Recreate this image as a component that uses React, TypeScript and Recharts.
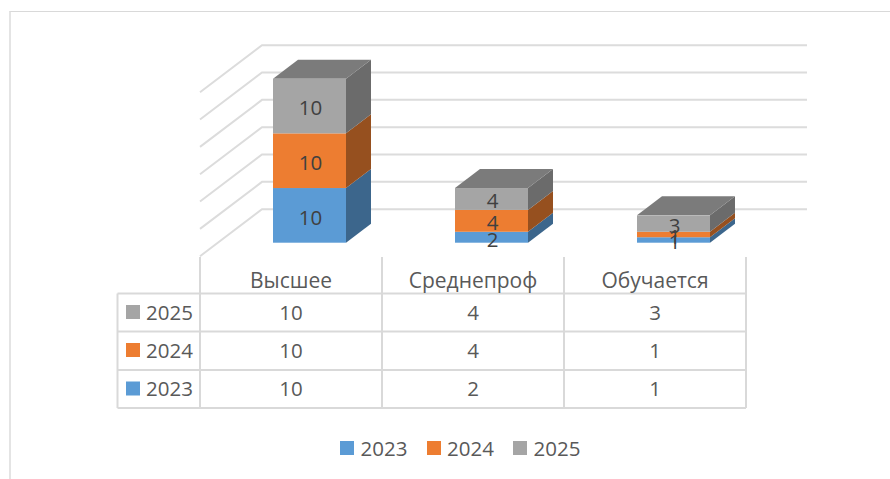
import { BarChart, Bar, XAxis, YAxis, CartesianGrid, LabelList, Legend } from 'recharts';

const categories = ['Высшее', 'Среднепроф', 'Обучается'];
const values2023 = [10, 2, 1];
const values2024 = [10, 4, 1];
const values2025 = [10, 4, 3];
const yTicks = [0, 5, 10, 15, 20, 25, 30];

const chartData = categories.map((name, i) => ({
  name,
  y2023: values2023[i],
  y2024: values2024[i],
  y2025: values2025[i],
}));

const FONT = '"Open Sans", "Noto Sans", sans-serif';
const LINE = '#d9d9d9';
const TEXT = '#595959';

// table rows go top to bottom, reverse of the stack
const rows = [
  { name: '2025', values: values2025, color: '#a5a5a5' },
  { name: '2024', values: values2024, color: '#ed7d31' },
  { name: '2023', values: values2023, color: '#5b9bd5' },
];

const sideColors: Record<string, string> = {
  '#5b9bd5': '#3c668c',
  '#ed7d31': '#96501f',
  '#a5a5a5': '#6b6b6b',
};

const DEPTH_X = 25;
const DEPTH_Y = 19;
const TABLE_LEFT = 117.5;
const COL_LEFT = 200;
const COL_W = 182;
const HEAD_TOP = 257;
const ROW_TOPS = [293.5, 331.5, 370];
const TABLE_BOTTOM = 408;

function Bar3D(props: any) {
  const { x, y, width, height, fill, isTop } = props;
  return (
    <g>
      <polygon
        points={`${x + width},${y} ${x + width + DEPTH_X},${y - DEPTH_Y} ${x + width + DEPTH_X},${y + height - DEPTH_Y} ${x + width},${y + height}`}
        fill={sideColors[fill]}
      />
      {isTop && (
        <polygon
          points={`${x},${y} ${x + DEPTH_X},${y - DEPTH_Y} ${x + width + DEPTH_X},${y - DEPTH_Y} ${x + width},${y}`}
          fill="#7b7b7b"
        />
      )}
      <rect x={x} y={y} width={width} height={height} fill={fill} />
    </g>
  );
}

// back wall + side wall gridline
function WallLine(props: any) {
  const { x1, x2, y1 } = props;
  return (
    <polyline
      key={`wall-${y1}`}
      points={`${x1 - 18},${y1 + 13.5} ${x1 + 44},${y1 - 33.5} ${x2 + 43},${y1 - 33.5}`}
      fill="none"
      stroke="#dcdcdc"
      strokeWidth={2}
    />
  );
}

// each category tick draws its whole column of the data table
function TableColumn(props: any) {
  const { x, payload, index } = props;
  const cx = x - 18;
  const left = cx - COL_W / 2;
  return (
    <g fontFamily={FONT} fontSize={20.5} fill={TEXT}>
      <line x1={left} x2={left} y1={HEAD_TOP} y2={TABLE_BOTTOM} stroke={LINE} strokeWidth={2} />
      <line x1={left + COL_W} x2={left + COL_W} y1={HEAD_TOP} y2={TABLE_BOTTOM} stroke={LINE} strokeWidth={2} />
      <text x={cx} y={288} textAnchor="middle" fontSize={21}>{payload.value}</text>
      {rows.map((row, r) => (
        <text key={row.name} x={cx} y={ROW_TOPS[r] + 26} textAnchor="middle">{row.values[index]}</text>
      ))}
      {index === 0 && (
        <g>
          {[...ROW_TOPS, TABLE_BOTTOM].map((ty) => (
            <line key={ty} x1={TABLE_LEFT} x2={COL_LEFT + COL_W * categories.length} y1={ty} y2={ty} stroke={LINE} strokeWidth={2} />
          ))}
          <line x1={TABLE_LEFT} x2={TABLE_LEFT} y1={ROW_TOPS[0]} y2={TABLE_BOTTOM} stroke={LINE} strokeWidth={2} />
          {rows.map((row, r) => (
            <g key={row.name}>
              <rect x={126} y={ROW_TOPS[r] + 11.5} width={14} height={14} fill={row.color} />
              <text x={146} y={ROW_TOPS[r] + 26}>{row.name}</text>
            </g>
          ))}
        </g>
      )}
    </g>
  );
}

function LegendRow() {
  return (
    <div style={{ display: 'flex', fontFamily: FONT, fontSize: 20.5, color: TEXT, lineHeight: '24px' }}>
      {[...rows].reverse().map((row) => (
        <div key={row.name} style={{ display: 'flex', alignItems: 'center', width: 86.5 }}>
          <span style={{ width: 14, height: 14, background: row.color, marginRight: 6.5 }} />
          {row.name}
        </div>
      ))}
    </div>
  );
}

const labelStyle = { fontFamily: FONT, fontSize: 20.5, fill: '#404040' };

export default function App() {
  return (
    <div style={{ position: 'absolute', left: 0, top: 0, width: 890, height: 479, background: '#fff', overflow: 'hidden' }}>
      <div style={{ position: 'absolute', left: 9, top: 11, width: 881, height: 468, borderTop: `1.5px solid ${LINE}`, borderLeft: `2px solid #e4e4e4` }} />
      <BarChart
        width={890}
        height={479}
        data={chartData}
        margin={{ top: 78.7, right: 126, left: 218, bottom: 211.3 }}
        style={{ position: 'absolute', left: 0, top: 0 }}
      >
        <CartesianGrid horizontal={WallLine as any} vertical={false} />
        <XAxis dataKey="name" axisLine={false} tickLine={false} interval={0} height={1} tick={TableColumn as any} />
        <YAxis hide domain={[0, 30]} ticks={yTicks} width={0} />
        <Legend
          content={LegendRow as any}
          wrapperStyle={{ position: 'absolute', left: 340, top: 436, width: 300 }}
        />
        <Bar dataKey="y2023" stackId="a" barSize={73} fill="#5b9bd5" isAnimationActive={false} shape={(p: any) => <Bar3D {...p} />}>
          <LabelList dataKey="y2023" position="center" style={labelStyle} dy={2} dx={1} />
        </Bar>
        <Bar dataKey="y2024" stackId="a" barSize={73} fill="#ed7d31" isAnimationActive={false} shape={(p: any) => <Bar3D {...p} />}>
          <LabelList dataKey="y2024" position="center" style={labelStyle} dy={2} dx={1} />
        </Bar>
        <Bar dataKey="y2025" stackId="a" barSize={73} fill="#a5a5a5" isAnimationActive={false} shape={(p: any) => <Bar3D {...p} isTop />}>
          <LabelList dataKey="y2025" position="center" style={labelStyle} dy={2} dx={1} />
        </Bar>
      </BarChart>
    </div>
  );
}
